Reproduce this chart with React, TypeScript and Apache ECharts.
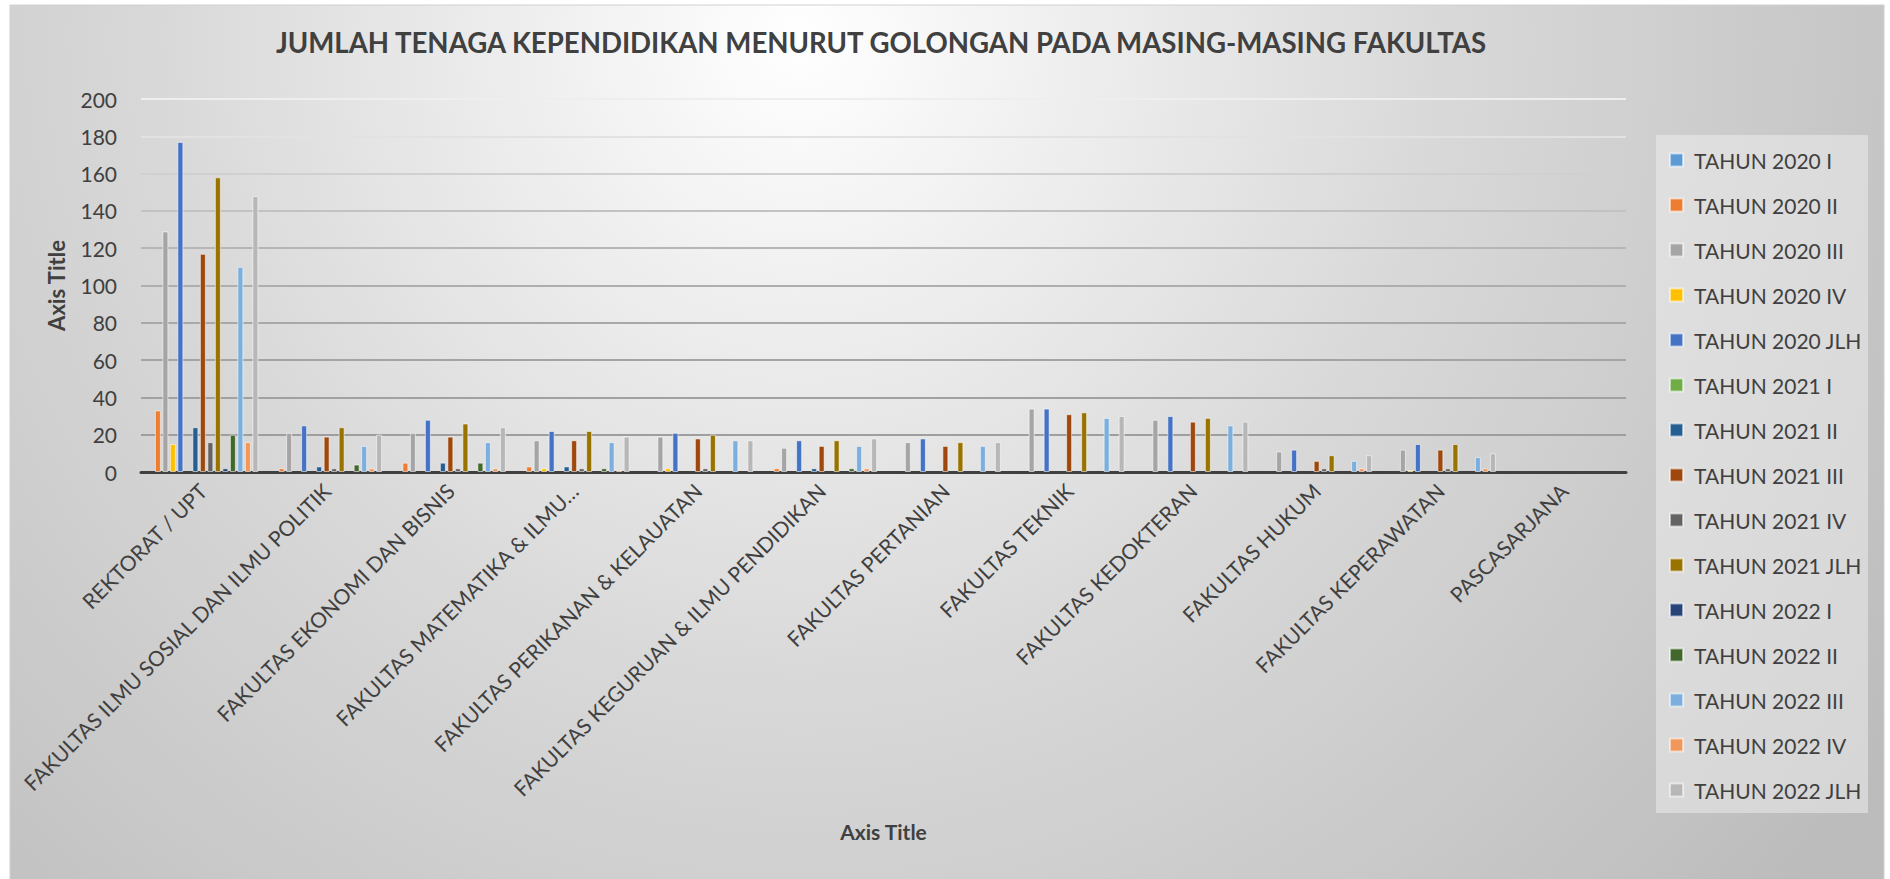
import React, { useEffect, useRef } from "react";
import * as echarts from "echarts";

const categories = [
  "REKTORAT / UPT",
  "FAKULTAS ILMU SOSIAL DAN ILMU POLITIK",
  "FAKULTAS EKONOMI DAN BISNIS",
  "FAKULTAS MATEMATIKA & ILMU…",
  "FAKULTAS PERIKANAN & KELAUATAN",
  "FAKULTAS KEGURUAN & ILMU PENDIDIKAN",
  "FAKULTAS PERTANIAN",
  "FAKULTAS TEKNIK",
  "FAKULTAS KEDOKTERAN",
  "FAKULTAS HUKUM",
  "FAKULTAS KEPERAWATAN",
  "PASCASARJANA",
];

const seriesNames = [
  "TAHUN 2020 I",
  "TAHUN 2020 II",
  "TAHUN 2020 III",
  "TAHUN 2020 IV",
  "TAHUN 2020 JLH",
  "TAHUN 2021 I",
  "TAHUN 2021 II",
  "TAHUN 2021 III",
  "TAHUN 2021 IV",
  "TAHUN 2021 JLH",
  "TAHUN 2022 I",
  "TAHUN 2022 II",
  "TAHUN 2022 III",
  "TAHUN 2022 IV",
  "TAHUN 2022 JLH",
];

const t2020_I = [0, 0, 0, 0, 0, 0, 0, 0, 0, 0, 0, 0];
const t2020_II = [33, 2, 5, 3, 0, 2, 0, 0, 0, 0, 0, 0];
const t2020_III = [129, 21, 21, 17, 19, 13, 16, 34, 28, 11, 12, 0];
const t2020_IV = [15, 0, 0, 2, 2, 0, 0, 0, 0, 0, 1, 0];
const t2020_JLH = [177, 25, 28, 22, 21, 17, 18, 34, 30, 12, 15, 0];
const t2021_I = [0, 0, 0, 0, 0, 0, 0, 0, 0, 0, 0, 0];
const t2021_II = [24, 3, 5, 3, 0, 2, 0, 0, 0, 0, 0, 0];
const t2021_III = [117, 19, 19, 17, 18, 14, 14, 31, 27, 6, 12, 0];
const t2021_IV = [16, 2, 2, 2, 2, 0, 0, 0, 0, 2, 2, 0];
const t2021_JLH = [158, 24, 26, 22, 20, 17, 16, 32, 29, 9, 15, 0];
const t2022_I = [2, 0, 0, 0, 0, 0, 0, 0, 0, 0, 0, 0];
const t2022_II = [20, 4, 5, 2, 0, 2, 0, 0, 0, 0, 0, 0];
const t2022_III = [110, 14, 16, 16, 17, 14, 14, 29, 25, 6, 8, 0];
const t2022_IV = [16, 2, 2, 1, 0, 2, 0, 0, 0, 2, 2, 0];
const t2022_JLH = [148, 20, 24, 19, 17, 18, 16, 30, 27, 9, 10, 0];

const seriesValues = [
  t2020_I, t2020_II, t2020_III, t2020_IV, t2020_JLH,
  t2021_I, t2021_II, t2021_III, t2021_IV, t2021_JLH,
  t2022_I, t2022_II, t2022_III, t2022_IV, t2022_JLH,
];

const seriesColors = [
  "#5B9BD5", "#ED7D31", "#A5A5A5", "#FFC000", "#4472C4",
  "#70AD47", "#255E91", "#9E480E", "#636363", "#997300",
  "#264478", "#43682B", "#7CAFDD", "#F1975A", "#B7B7B7",
];

const gridColors = [
  "#9a9a9a", "#9e9e9e", "#a1a1a1", "#a4a4a4", "#a8a8a8", "#aeaeae",
  "#b6b6b6", "#c2c2c2", "#d0d0d0", "#e2e2e2", "#eeeeee",
];

const FONT = "Lato, 'Open Sans', sans-serif";
const TEXT = "#404040";

export default function App() {
  const ref = useRef<HTMLDivElement>(null);

  useEffect(() => {
    if (!ref.current) return;
    const chart = echarts.init(ref.current, undefined, { renderer: "svg" });
    const option: any = {
      animation: false,
      backgroundColor: "#ffffff",
      textStyle: { fontFamily: FONT },
      title: {
        text: "JUMLAH TENAGA KEPENDIDIKAN MENURUT GOLONGAN PADA MASING-MASING FAKULTAS",
        left: 876,
        top: 37,
        textAlign: "center",
        textVerticalAlign: "middle",
        textStyle: { fontFamily: FONT, fontSize: 27.6, fontWeight: "bold", color: TEXT },
      },
      graphic: [
        {
          type: "rect",
          z: -10,
          silent: true,
          shape: { x: 10, y: 5, width: 1874, height: 880 },
          style: {
            fill: new echarts.graphic.RadialGradient(800, 40, 1300, [
              { offset: 0, color: "#ffffff" },
              { offset: 0.15, color: "#f3f3f3" },
              { offset: 0.5, color: "#d8d8d8" },
              { offset: 1, color: "#bcbcbc" },
            ], true),
            stroke: "#d0d0d0",
            lineWidth: 1,
          },
        },
        {
          type: "rect",
          z: -9,
          silent: true,
          shape: { x: 1656, y: 135, width: 212, height: 678 },
          style: { fill: "rgba(240,240,240,0.5)" },
        },
      ],
      legend: {
        orient: "vertical",
        left: 1669,
        top: 148,
        padding: 0,
        itemWidth: 13,
        itemHeight: 13,
        itemGap: 21,
        icon: "rect",
        data: seriesNames,
        textStyle: {
          fontFamily: FONT,
          fontSize: 21,
          lineHeight: 24,
          color: TEXT,
          padding: [0, 0, 0, 6],
        },
      },
      grid: { left: 141, right: 264, top: 99, bottom: 407, containLabel: false },
      xAxis: {
        type: "category",
        data: categories,
        name: "Axis Title",
        nameLocation: "middle",
        nameGap: 349,
        nameTextStyle: { fontFamily: FONT, fontSize: 21, fontWeight: "bold", color: TEXT },
        axisLine: { show: true, lineStyle: { color: "#404040", width: 3 } },
        axisTick: { show: false },
        axisLabel: {
          rotate: 45,
          margin: 15,
          interval: 0,
          fontFamily: FONT,
          fontSize: 21,
          color: TEXT,
        },
      },
      yAxis: {
        type: "value",
        min: 0,
        max: 200,
        interval: 20,
        name: "Axis Title",
        nameLocation: "middle",
        nameGap: 74,
        nameRotate: 90,
        nameTextStyle: { fontFamily: FONT, fontSize: 22, fontWeight: "bold", color: TEXT },
        axisLine: { show: false },
        axisTick: { show: false },
        axisLabel: { margin: 24, fontFamily: FONT, fontSize: 21, color: TEXT },
        splitLine: { show: true, lineStyle: { color: gridColors, width: 2 } },
      },
      series: seriesNames.map((name, i) => ({
        name,
        type: "bar",
        data: seriesValues[i].map((v) => (v === 0 ? null : v)),
        barWidth: 6,
        barGap: "25%",
        itemStyle: {
          color: seriesColors[i],
          borderColor: "rgba(255,255,255,0.55)",
          borderWidth: 1,
        },
      })),
    };
    chart.setOption(option);
    return () => chart.dispose();
  }, []);

  return (
    <div
      ref={ref}
      style={{ position: "fixed", left: 0, top: 0, width: 1890, height: 879 }}
    />
  );
}
